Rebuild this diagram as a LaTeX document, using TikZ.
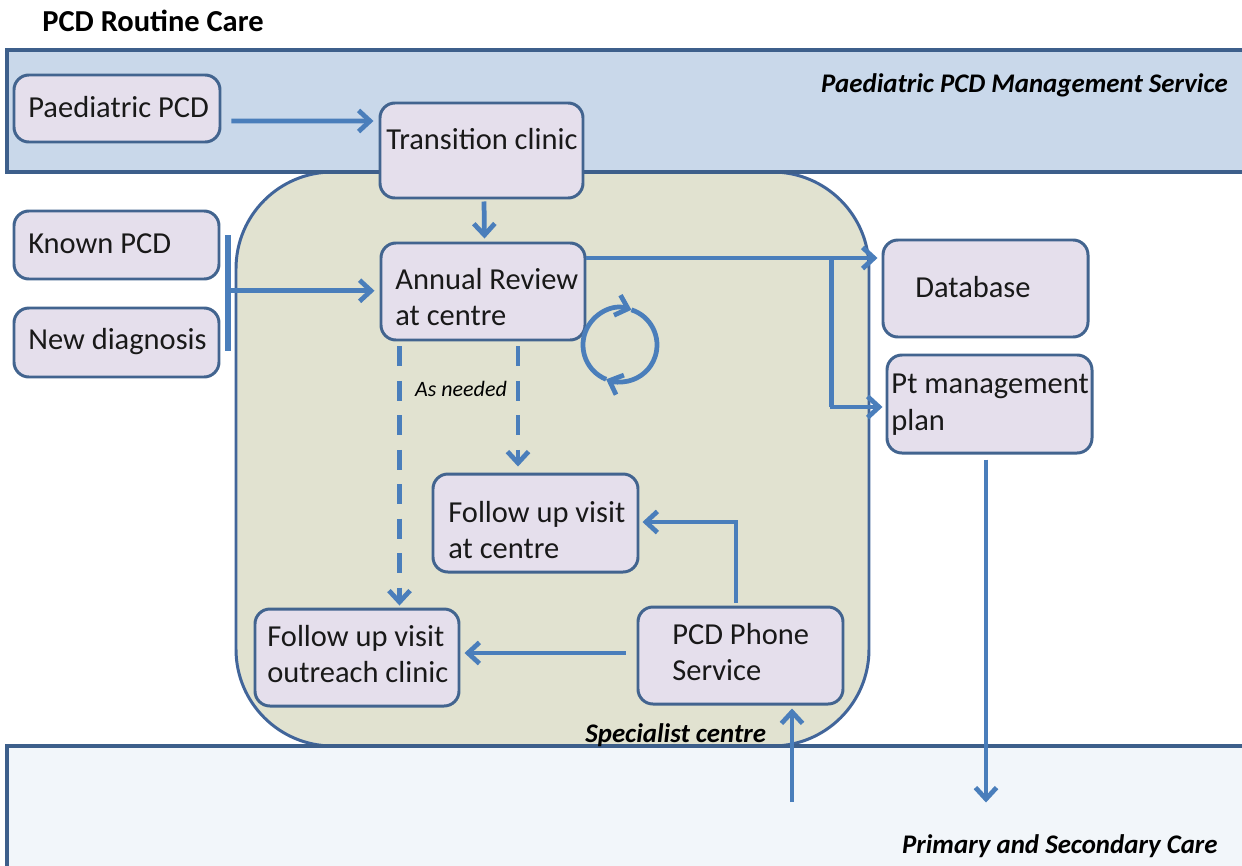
\documentclass[tikz,border=0pt]{standalone}
\usepackage{fontspec}
\setmainfont{Carlito}
\usetikzlibrary{arrows.meta,calc,fit}

\definecolor{bandtop}{HTML}{C9D8EA}
\definecolor{bandbot}{HTML}{F2F6FA}
\definecolor{bandline}{HTML}{3D5F8B}
\definecolor{centrefill}{HTML}{E1E2D0}
\definecolor{centreline}{HTML}{41659A}
\definecolor{boxfill}{HTML}{E5DFEC}
\definecolor{boxline}{HTML}{42648F}
\definecolor{flow}{HTML}{4A7EBB}

\tikzset{
  box/.style={draw=boxline, fill=boxfill, line width=1.7pt, rounded corners=8.5pt, inner sep=0pt},
  boxtext/.style={anchor=west, inner sep=0pt, align=left, text=black!90,
    font=\fontsize{17.35}{21}\selectfont},
  tag/.style={inner sep=0pt, font=\fontsize{15.3}{18}\selectfont\bfseries\itshape},
  tip/.style={-{Straight Barb[length=6.5pt,width=12pt,line width=2.7pt]}},
  arr/.style={draw=flow, line width=2.7pt, tip},
  link/.style={draw=flow, line width=2.7pt},
  bar/.style={draw=flow, line width=3.9pt},
  dasharr/.style={arr, dash pattern=on 11.3pt off 8.3pt},
}

\begin{document}
\begin{tikzpicture}[x=0.02cm, y=-0.02cm]
  \useasboundingbox (0,0) rectangle (1242,866);
  \clip (0,0) rectangle (1242,866);
  \fill[white] (0,0) rectangle (1242,866);

  % specialist centre
  \draw[draw=centreline, fill=centrefill, line width=1.7pt, rounded corners=55pt]
    (236,172) rectangle (869,746);

  % service bands
  \draw[draw=bandline, fill=bandtop, line width=2.2pt] (7,50) rectangle (1260,172);
  \draw[draw=bandline, fill=bandbot, line width=2.2pt] (7,746) rectangle (1260,900);

  % headings
  \node[anchor=west, inner sep=0pt, font=\fontsize{17.35}{21}\selectfont\bfseries] (title) at (42,21) {PCD Routine Care};
  \node[tag, anchor=east] (pms) at (1228,85) {Paediatric PCD Management Service};
  \node[tag, anchor=west] (spc) at (585,735) {Specialist centre};
  \node[tag, anchor=east] (psc) at (1218,846) {Primary and Secondary Care};

  % boxes
  \node[box, fit={(14,75)(220,142)}] (pp) {};
  \node[box, fit={(380,103)(583,198)}] (tc) {};
  \node[box, fit={(14,211)(219,279)}] (kp) {};
  \node[box, fit={(14,308)(219,377)}] (nd) {};
  \node[box, fit={(381,243)(585,340)}] (ar) {};
  \node[box, fit={(883,240)(1088,337)}] (db) {};
  \node[box, fit={(887,355)(1092,453)}] (pt) {};
  \node[box, fit={(433,474)(638,572)}] (fc) {};
  \node[box, fit={(255,609)(459,706)}] (fo) {};
  \node[box, fit={(638,607)(843,704)}] (ph) {};

  % box texts
  \node[boxtext] (pp-t) at (28,107) {Paediatric PCD};
  \node[boxtext] (tc-t) at (386,139) {Transition clinic};
  \node[boxtext] (kp-t) at (28,244) {Known PCD};
  \node[boxtext] (nd-t) at (28,342) {New diagnosis};
  \node[boxtext] (ar-t) at (395,297) {Annual Review\\at centre};
  \node[boxtext] (db-t) at (915,287) {Database};
  \node[boxtext] (pt-t) at (891,405) {Pt management\\plan};
  \node[boxtext] (fc-t) at (448,530) {Follow up visit\\at centre};
  \node[boxtext] (fo-t) at (267,654) {Follow up visit\\outreach clinic};
  \node[boxtext] (ph-t) at (672,652) {PCD Phone\\Service};

  % entry into the service
  \draw[arr] ($(pp.east)+(10,12.5)$) -- ($(tc.west)+(-5,-29.5)$);
  \draw[arr] ($(tc.south)+(2.5,2)$) -- ($(ar.north)+(1.5,-3)$);

  % known / new patients join the annual review
  \draw[bar] ($(kp.east)+(7.5,-10)$) -- ($(nd.east)+(7.5,8)$);
  \coordinate (join) at ($(kp.east)!0.5!(nd.east)+(7.5,-3)$);
  \draw[arr] (join) -- ($(join -| ar.west)+(-5,0)$);

  % outputs of the annual review
  \draw[arr] ($(ar.east)+(0,-33.5)$) coordinate (out) -- ($(db.west)+(-4,-30.5)$);
  \coordinate (split) at ($(out)+(245,0)$);
  \draw[link] (split) -- ($(split |- pt.west)+(0,3)$);
  \draw[arr] ($(split |- pt.west)+(-1.3,3)$) -- ($(pt.west)+(-3,3)$);

  % yearly cycle
  \coordinate (cyc) at (620,345);
  \draw[link, tip] ([shift={(112:37)}]cyc) arc[start angle=112, end angle=288, radius=37];
  \draw[link, tip] ([shift={(288:37)}]cyc) arc[start angle=288, end angle=472, radius=37];

  % visits as needed
  \draw[dasharr] ($(ar.south west)+(20,5)$) coordinate (d1) -- ($(d1 |- fo.north)+(0,-2)$);
  \draw[dasharr] ($(ar.south)+(35,5)$) coordinate (d2) -- ($(d2 |- fc.north)+(0,-6)$);
  \node[inner sep=0pt, font=\fontsize{12.5}{15}\selectfont\itshape] (asn) at (461,389) {As needed};

  % phone service
  \draw[arr] ($(ph.north)+(-4.5,-3)$) |- ($(fc.east)+(3,-1)$);
  \draw[arr] ($(ph.west)+(-11,-2.5)$) -- ($(fo.east)+(4,-4.5)$);
  \coordinate (call) at (792,802);
  \draw[arr] (call) -- ($(call |- ph.south)+(0,3)$);

  % management plan shared with local care
  \coordinate (share) at ($(pt.south)+(-3.5,0)$);
  \draw[arr] ($(share)+(0,5)$) -- ($(share)+(0,348)$);
\end{tikzpicture}
\end{document}
